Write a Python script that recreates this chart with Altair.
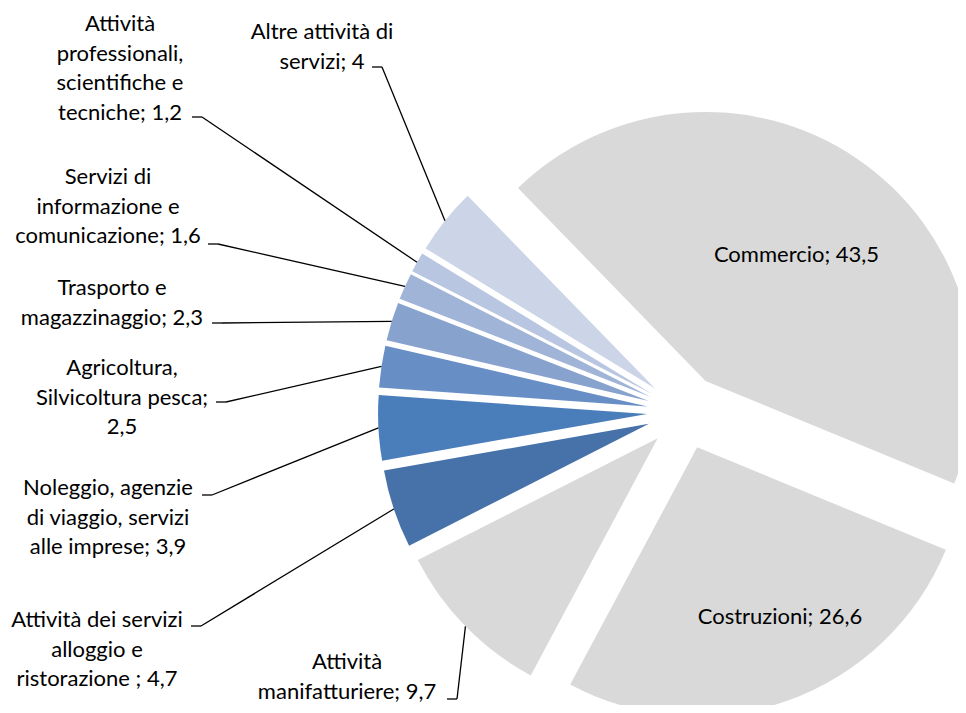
import altair as alt
import pandas as pd

# ---------------- data ----------------
CATEGORIES = [
    "Commercio",
    "Costruzioni",
    "Attività manifatturiere",
    "Attività dei servizi alloggio e ristorazione",
    "Noleggio, agenzie di viaggio, servizi alle imprese",
    "Agricoltura, Silvicoltura pesca",
    "Trasporto e magazzinaggio",
    "Servizi di informazione e comunicazione",
    "Attività professionali, scientifiche e tecniche",
    "Altre attività di servizi",
]
VALUES = [43.5, 26.6, 9.7, 4.7, 3.9, 2.5, 2.3, 1.6, 1.2, 4.0]
LABEL_TEMPLATES = [
    "Commercio; {v}",
    "Costruzioni; {v}",
    "Attività\nmanifatturiere; {v}",
    "Attività  dei servizi\nalloggio e\nristorazione ; {v}",
    "Noleggio, agenzie\ndi viaggio,  servizi\nalle imprese; {v}",
    "Agricoltura,\nSilvicoltura pesca;\n{v}",
    "Trasporto e\nmagazzinaggio;  {v}",
    "Servizi di\ninformazione e\ncomunicazione; {v}",
    "Attività\nprofessionali,\nscientifiche e\ntecniche; {v}",
    "Altre attività  di\nservizi; {v}",
]

# ---------------- style ----------------
COLORS = ["#D9D9D9", "#D9D9D9", "#D9D9D9", "#4672A9", "#4A7EBB",
          "#678FC5", "#87A2CD", "#A0B4D8", "#B8C6E1", "#CBD5E7"]

# ---------------- layout (page pixels) ----------------
M = 8
CX, CY = 684.5 - M, 412 - M
R = 269
EXPLODE = 37.5
START_DEG = -44.2
# position of the first line of every label block
LABEL_X = [796.5, 780, 347, 97, 108, 122, 112, 108, 120, 322]
LABEL_Y = [255, 617, 662, 620, 488, 368, 288, 177, 24, 32]
TICK_X = [None, None, 447, 191, 202, 216, 212, 208, 192, 372]
TICK_Y = [None, None, 699, 626, 495, 402, 323, 244, 117, 67]
TICK_LEN = 10


def fmt(v):
    return f"{v:g}".replace(".", ",")


df = pd.DataFrame({
    "cat": CATEGORIES,
    "value": VALUES,
    "order": list(range(len(CATEGORIES))),
    "label": [t.format(v=fmt(v)) for t, v in zip(LABEL_TEMPLATES, VALUES)],
    "lx": [x - M for x in LABEL_X],
    "ly": [y - M for y in LABEL_Y],
    "tx": [None if x is None else x - M for x in TICK_X],
    "ty": [None if y is None else y - M for y in TICK_Y],
})
df["tx2"] = df["tx"] + TICK_LEN

base = (
    alt.Chart(df)
    .transform_window(cum="sum(value)", sort=[alt.SortField("order")], frame=[None, 0])
    .transform_joinaggregate(total="sum(value)")
    .transform_calculate(
        a0=f"{START_DEG}*PI/180 + 2*PI*(datum.cum - datum.value)/datum.total",
        a1=f"{START_DEG}*PI/180 + 2*PI*datum.cum/datum.total",
    )
    .transform_calculate(mid="(datum.a0 + datum.a1)/2")
    .transform_calculate(
        cx=f"{CX} + {EXPLODE}*sin(datum.mid)",
        cy=f"{CY} - {EXPLODE}*cos(datum.mid)",
        px=f"{CX} + {EXPLODE + R}*sin(datum.mid)",
        py=f"{CY} - {EXPLODE + R}*cos(datum.mid)",
    )
)

arcs = base.mark_arc(outerRadius=R).encode(
    x=alt.X("cx:Q", scale=None, axis=None),
    y=alt.Y("cy:Q", scale=None, axis=None),
    theta=alt.Theta("a0:Q", scale=None, stack=False),
    theta2="a1:Q",
    color=alt.Color("cat:N", scale=alt.Scale(domain=CATEGORIES, range=COLORS), legend=None),
)

leaders = base.transform_filter("isValid(datum.tx)")

ticks = leaders.mark_rule(color="black", strokeWidth=1.3).encode(
    x=alt.X("tx:Q", scale=None, axis=None),
    x2="tx2:Q",
    y=alt.Y("ty:Q", scale=None, axis=None),
    y2="ty:Q",
)

lines = leaders.mark_rule(color="black", strokeWidth=1.3).encode(
    x=alt.X("tx2:Q", scale=None, axis=None),
    x2="px:Q",
    y=alt.Y("ty:Q", scale=None, axis=None),
    y2="py:Q",
)

labels = base.mark_text(
    font="Lato", fontSize=22, color="black", align="center", baseline="middle",
    lineBreak="\n", lineHeight=29.5,
).encode(
    x=alt.X("lx:Q", scale=None, axis=None),
    y=alt.Y("ly:Q", scale=None, axis=None),
    text="label:N",
)

chart = (
    alt.layer(arcs, ticks, lines, labels)
    .properties(width=950, height=697, autosize=alt.AutoSizeParams(type="none"), padding=0)
    .configure_view(strokeWidth=0)
)

chart.save("out.html", embed_options={"renderer": "svg", "actions": False})
